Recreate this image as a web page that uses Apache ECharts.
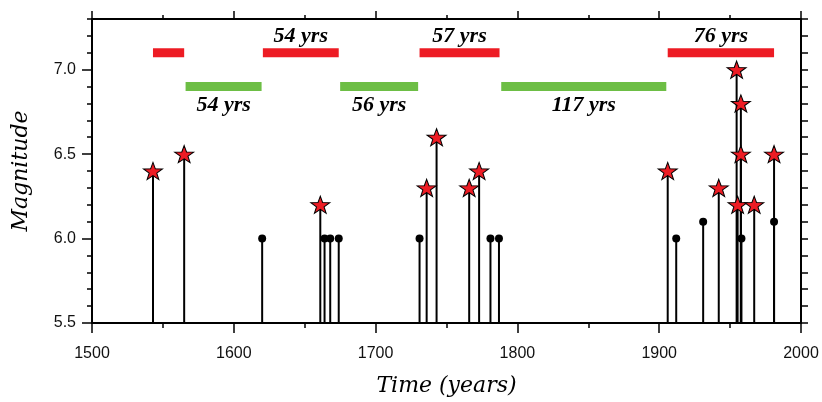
<!DOCTYPE html>
<html>
<head>
<meta charset="utf-8">
<script src="https://cdn.jsdelivr.net/npm/echarts@6/dist/echarts.min.js"></script>
<style>
html,body{margin:0;padding:0;background:#fff;}
#chart{width:822px;height:402px;}
</style>
</head>
<body>
<div id="chart"></div>
<script>
// Large events (stars)
const starYears = [1543, 1565, 1661, 1736, 1743, 1766, 1773, 1906, 1942, 1954.6, 1955.3, 1957.6, 1957.6, 1967, 1981];
const starMags  = [6.4,  6.5,  6.2,  6.3,  6.6,  6.3,  6.4,  6.4,  6.3,  7.0,    6.2,    6.8,    6.5,    6.2,  6.5];
// Smaller events (dots)
const dotYears = [1620, 1664, 1668, 1674, 1731, 1781, 1787, 1912, 1931, 1958, 1981];
const dotMags  = [6.0,  6.0,  6.0,  6.0,  6.0,  6.0,  6.0,  6.0,  6.1,  6.0,  6.1];
// Active periods (red) and quiet periods (green)
const redStart  = [1543, 1620.5, 1731, 1906];
const redEnd    = [1565, 1674, 1787.4, 1981];
const redLabels = ['', '54 yrs', '57 yrs', '76 yrs'];
const redLevel  = 7.1;
const greenStart  = [1566, 1675, 1788.6];
const greenEnd    = [1619.6, 1730, 1905];
const greenLabels = ['54 yrs', '56 yrs', '117 yrs'];
const greenLevel  = 6.9;
// Axis
const xTicks = [1500, 1600, 1700, 1800, 1900, 2000];
const yMajor = [5.5, 6.0, 6.5, 7.0];
const yMin = 5.5, yMax = 7.3;

const chart = echarts.init(document.getElementById('chart'), null, {renderer: 'canvas'});

const stemData = starYears.map((y, i) => [y, starMags[i]]).concat(dotYears.map((y, i) => [y, dotMags[i]]));
const starData = starYears.map((y, i) => [y, starMags[i]]);
const dotData = dotYears.map((y, i) => [y, dotMags[i]]);
const redData = redStart.map((s, i) => [s, redEnd[i], redLevel, i]);
const greenData = greenStart.map((s, i) => [s, greenEnd[i], greenLevel, i]);

const starPath = 'path://M0,-10 L2.35,-3.24 L9.51,-3.09 L3.8,1.24 L5.88,8.09 L0,4 L-5.88,8.09 L-3.8,1.24 L-9.51,-3.09 L-2.35,-3.24 Z';
const labelFont = 'italic bold 22px "Liberation Serif"';

function periodRenderer(color, labels, offset) {
  return function (params, api) {
    const a = api.coord([api.value(0), api.value(2)]);
    const b = api.coord([api.value(1), api.value(2)]);
    const lbl = labels[api.value(3)];
    return {
      type: 'group',
      children: [
        {type: 'rect', shape: {x: a[0], y: a[1] - 4.5, width: b[0] - a[0], height: 9}, style: {fill: color}},
        {type: 'text', x: (a[0] + b[0]) / 2, y: a[1] + offset,
          style: {text: lbl, font: labelFont, fill: '#000', align: 'center', verticalAlign: 'middle'}}
      ]
    };
  };
}

const axisLineStyle = {color: '#000', width: 2};
const tickStyle = {color: '#000', width: 1.5};
const labelStyle = {color: '#111', fontFamily: 'Liberation Sans', fontSize: 16};
const nameStyle = {color: '#000', fontFamily: 'DejaVu Serif', fontStyle: 'italic', fontSize: 22};

const option = {
  animation: false,
  backgroundColor: '#fff',
  grid: {left: 92, right: 21, top: 19, bottom: 77, containLabel: false},
  xAxis: [
    {
      type: 'value', position: 'bottom', min: xTicks[0], max: xTicks[xTicks.length - 1], interval: 100,
      axisLine: {show: true, onZero: false, lineStyle: axisLineStyle},
      axisTick: {show: true, length: 10, lineStyle: tickStyle},
      minorTick: {show: true, splitNumber: 2, length: 5, lineStyle: tickStyle},
      axisLabel: Object.assign({margin: 23, formatter: v => String(v)}, labelStyle),
      splitLine: {show: false},
      name: 'Time (years)', nameLocation: 'middle', nameGap: 52, nameTextStyle: nameStyle
    },
    {
      type: 'value', position: 'top', min: xTicks[0], max: xTicks[xTicks.length - 1], interval: 100,
      axisLine: {show: true, onZero: false, lineStyle: axisLineStyle},
      axisTick: {show: true, length: 8, lineStyle: tickStyle},
      minorTick: {show: true, splitNumber: 2, length: 4, lineStyle: tickStyle},
      axisLabel: {show: false},
      splitLine: {show: false}
    }
  ],
  yAxis: [
    {
      type: 'value', position: 'left', min: yMin, max: yMax, interval: 0.1,
      axisLine: {show: true, onZero: false, lineStyle: axisLineStyle},
      axisTick: {show: true, length: 5, lineStyle: tickStyle},
      axisLabel: Object.assign({
        margin: 16,
        formatter: v => (Math.abs(v * 2 - Math.round(v * 2)) < 1e-6 && v < 7.25) ? v.toFixed(1) : ''
      }, labelStyle),
      splitLine: {show: false},
      name: 'Magnitude', nameLocation: 'middle', nameGap: 60, nameTextStyle: nameStyle
    },
    {
      type: 'value', position: 'left', min: yMin, max: yMax, interval: 0.5,
      axisLine: {show: false, onZero: false},
      axisTick: {show: true, length: 10, lineStyle: tickStyle, customValues: yMajor},
      axisLabel: {show: false},
      splitLine: {show: false}
    },
    {
      type: 'value', position: 'right', min: yMin, max: yMax, interval: 0.1,
      axisLine: {show: true, onZero: false, lineStyle: axisLineStyle},
      axisTick: {show: true, length: 7, lineStyle: tickStyle},
      axisLabel: {show: false},
      splitLine: {show: false}
    }
  ],
  series: [
    {
      type: 'custom', name: 'stems', xAxisIndex: 0, yAxisIndex: 0, z: 2,
      data: stemData,
      renderItem: function (params, api) {
        const p0 = api.coord([api.value(0), yMin]);
        const p1 = api.coord([api.value(0), api.value(1)]);
        return {type: 'line', shape: {x1: p0[0], y1: p0[1], x2: p1[0], y2: p1[1]},
          style: {stroke: '#000', lineWidth: 2}};
      }
    },
    {
      type: 'scatter', name: 'dots', xAxisIndex: 0, yAxisIndex: 0, z: 3,
      data: dotData, symbol: 'circle', symbolSize: 8,
      itemStyle: {color: '#000', opacity: 1}
    },
    {
      type: 'scatter', name: 'stars', xAxisIndex: 0, yAxisIndex: 0, z: 4,
      data: starData, symbol: starPath, symbolSize: [19, 18], symbolKeepAspect: true,
      itemStyle: {color: '#ed1c24', borderColor: '#000', borderWidth: 1, opacity: 1}
    },
    {
      type: 'custom', name: 'active', xAxisIndex: 0, yAxisIndex: 0, z: 5,
      data: redData, renderItem: periodRenderer('#ed1c24', redLabels, -16)
    },
    {
      type: 'custom', name: 'quiet', xAxisIndex: 0, yAxisIndex: 0, z: 5,
      data: greenData, renderItem: periodRenderer('#6dbe45', greenLabels, 19)
    }
  ]
};
chart.setOption(option);
</script>
</body>
</html>
